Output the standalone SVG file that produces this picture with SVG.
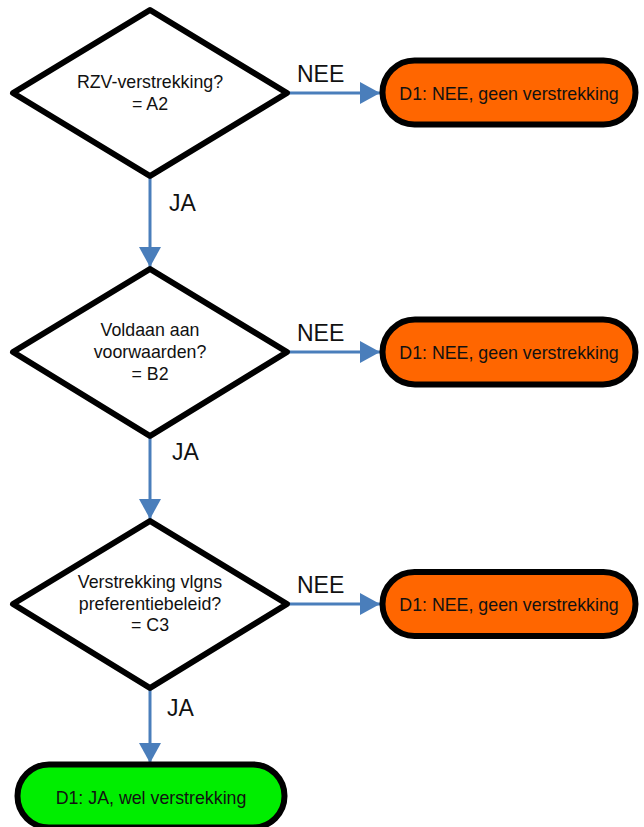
<svg xmlns="http://www.w3.org/2000/svg" width="644" height="827" viewBox="0 0 644 827">
<defs>
<style>
.dia{fill:#fff;stroke:#000;stroke-width:6;stroke-linejoin:round}
.term{stroke:#000;stroke-width:6}
.no{fill:#ff6600}
.yes{fill:#00ee00}
.t{font-family:"Liberation Sans",Arial,sans-serif;font-size:17.8px;fill:#111;text-anchor:middle}
.lbl{font-family:"Liberation Sans",Arial,sans-serif;font-size:23px;fill:#111}
.c{stroke:#4a7ebb;stroke-width:3;fill:none}
</style>
<marker id="ah" markerUnits="userSpaceOnUse" markerWidth="22" markerHeight="22" refX="20" refY="11" orient="auto">
<path d="M0,0 L20,11 L0,22 Z" fill="#4a7ebb"/>
</marker>
</defs>
<g id="connectors">
<line class="c" x1="150" y1="176" x2="150" y2="267" marker-end="url(#ah)"/>
<line class="c" x1="150" y1="436" x2="150" y2="519" marker-end="url(#ah)"/>
<line class="c" x1="150" y1="688" x2="150" y2="763" marker-end="url(#ah)"/>
<line class="c" x1="287" y1="93" x2="380" y2="93" marker-end="url(#ah)"/>
<line class="c" x1="287" y1="352" x2="380" y2="352" marker-end="url(#ah)"/>
<line class="c" x1="287" y1="604" x2="380" y2="604" marker-end="url(#ah)"/>
<text class="lbl" x="297" y="82">NEE</text>
<text class="lbl" x="297" y="341">NEE</text>
<text class="lbl" x="297" y="593">NEE</text>
<text class="lbl" x="169" y="211">JA</text>
<text class="lbl" x="172" y="460">JA</text>
<text class="lbl" x="167" y="716">JA</text>
</g>
<g id="q1">
<polygon class="dia" points="150,10 287,93 150,176 13,93"/>
<text class="t" x="150" y="88">RZV-verstrekking?</text>
<text class="t" x="150" y="110">= A2</text>
</g>
<g id="q2">
<polygon class="dia" points="150,269 287,352 150,436 13,352"/>
<text class="t" x="150" y="336">Voldaan aan</text>
<text class="t" x="150" y="358">voorwaarden?</text>
<text class="t" x="150" y="380">= B2</text>
</g>
<g id="q3">
<polygon class="dia" points="150,521 287,604 150,688 13,604"/>
<text class="t" x="150" y="588">Verstrekking vlgns</text>
<text class="t" x="150" y="610">preferentiebeleid?</text>
<text class="t" x="150" y="631">= C3</text>
</g>
<g id="d1a">
<rect class="term no" x="382.5" y="60.5" width="253" height="64" rx="32"/>
<text class="t" x="509" y="100">D1: NEE, geen verstrekking</text>
</g>
<g id="d1b">
<rect class="term no" x="382.5" y="319.5" width="253" height="65" rx="32.5"/>
<text class="t" x="509" y="359">D1: NEE, geen verstrekking</text>
</g>
<g id="d1c">
<rect class="term no" x="382.5" y="572" width="253" height="64" rx="32"/>
<text class="t" x="509" y="611">D1: NEE, geen verstrekking</text>
</g>
<g id="d1d">
<rect class="term yes" x="17.5" y="764.5" width="267" height="63" rx="31.5"/>
<text class="t" x="151" y="804">D1: JA, wel verstrekking</text>
</g>
</svg>
